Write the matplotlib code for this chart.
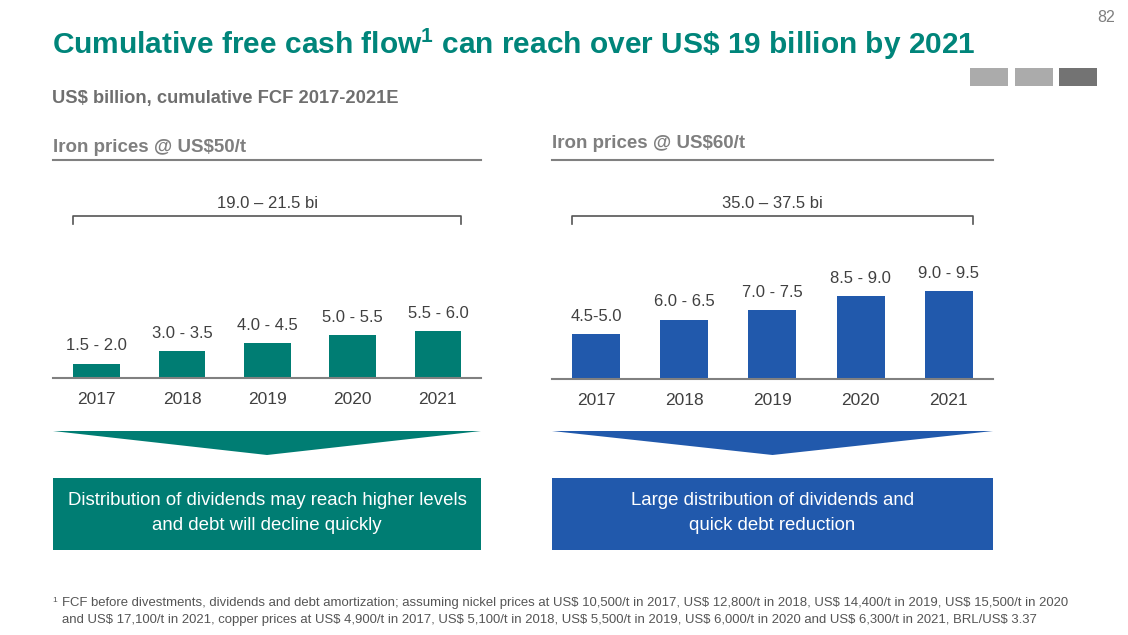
import matplotlib
matplotlib.use('Agg')
import matplotlib.pyplot as plt
import matplotlib.patches as patches

plt.rcParams['font.family'] = ['Liberation Sans', 'DejaVu Sans']
plt.rcParams['mathtext.fontset'] = 'custom'
plt.rcParams['mathtext.rm'] = 'Liberation Sans:bold'
plt.rcParams['mathtext.it'] = 'Liberation Sans:bold'
plt.rcParams['mathtext.bf'] = 'Liberation Sans:bold'

W, H = 1128, 635

# data
years = ['2017', '2018', '2019', '2020', '2021']
low_50 = [1.5, 3.0, 4.0, 5.0, 5.5]
high_50 = [2.0, 3.5, 4.5, 5.5, 6.0]
labels_50 = ['1.5 - 2.0', '3.0 - 3.5', '4.0 - 4.5', '5.0 - 5.5', '5.5 - 6.0']
low_60 = [4.5, 6.0, 7.0, 8.5, 9.0]
high_60 = [5.0, 6.5, 7.5, 9.0, 9.5]
labels_60 = ['4.5-5.0', '6.0 - 6.5', '7.0 - 7.5', '8.5 - 9.0', '9.0 - 9.5']
total_50 = '19.0 – 21.5 bi'
total_60 = '35.0 – 37.5 bi'

teal = '#007D73'
title_teal = '#00857A'
blue = '#2159AC'
gray_txt = '#7f7f7f'
dark_txt = '#404040'
line_gray = '#808080'

fig = plt.figure(figsize=(W / 100, H / 100), dpi=100)
bg = fig.add_axes([0, 0, 1, 1])
bg.set_xlim(0, W)
bg.set_ylim(H, 0)
bg.axis('off')


def px_box(x0, y0, x1, y1):
    return [x0 / W, 1 - y1 / H, (x1 - x0) / W, (y1 - y0) / H]


# header
bg.text(1106, 18, '82', ha='center', va='center', fontsize=11.5, color=gray_txt)
bg.text(52, 44, r'Cumulative free cash flow$^{1}$ can reach over US\$ 19 billion by 2021',
        ha='left', va='center', fontsize=21.5, fontweight='bold', color=title_teal)
bg.text(52, 98, 'US$ billion, cumulative FCF 2017-2021E', ha='left', va='center',
        fontsize=13.2, fontweight='bold', color='#6f6f6f', parse_math=False)
for x0, c in [(970, '#ABABAB'), (1015, '#ABABAB'), (1059, '#737373')]:
    bg.add_patch(patches.Rectangle((x0, 68), 38, 18, facecolor=c, edgecolor='none'))


def panel(x0, x1, base_y, first_c, step, bar_w, scale, lows, highs, labels, total,
          title, title_y, color, box_text):
    # section header + underline
    bg.text(x0, title_y, title, ha='left', va='center', fontsize=13.5, fontweight='bold',
            color=gray_txt, parse_math=False)
    bg.plot([x0, x1], [160, 160], color=line_gray, lw=1.5)

    top_y = 216
    ax = fig.add_axes(px_box(x0, top_y, x1, base_y))
    mids = [(lo + hi) / 2 for lo, hi in zip(lows, highs)]
    xs = list(range(len(years)))
    ax.bar(xs, mids, width=bar_w / step, color=color)
    left = -(first_c - x0) / step
    ax.set_xlim(left, left + (x1 - x0) / step)
    ax.set_ylim(0, (base_y - top_y) / scale)
    for x, m, lab in zip(xs, mids, labels):
        ax.annotate(lab, (x, m), xytext=(0, 7.5), textcoords='offset points',
                    ha='center', va='bottom', fontsize=12, color=dark_txt)
    ax.set_xticks(xs)
    ax.set_xticklabels(years, fontsize=12.5, color=dark_txt)
    ax.tick_params(axis='x', length=0, pad=10)
    ax.set_yticks([])
    for s in ['top', 'left', 'right']:
        ax.spines[s].set_visible(False)
    ax.spines['bottom'].set_color(line_gray)
    ax.spines['bottom'].set_linewidth(1.5)
    ax.patch.set_alpha(0)

    # bracket over all bars
    tr = ax.get_xaxis_transform()
    bl = xs[0] - bar_w / step / 2
    br = xs[-1] + bar_w / step / 2
    tick = 8 / (base_y - top_y)
    ax.plot([bl, bl, br, br], [1 - tick, 1, 1, 1 - tick], color='#555555', lw=1.2,
            transform=tr, clip_on=False)
    ax.annotate(total, (sum(xs) / len(xs), 1), xycoords=tr, xytext=(0, 9.3),
                textcoords='offset points', ha='center', va='center', fontsize=12,
                color=dark_txt)

    # chevron and box
    mid = (x0 + x1) / 2
    bg.add_patch(patches.Polygon([[x0, 431], [x1, 431], [mid, 455]], closed=True,
                                 facecolor=color, edgecolor='none'))
    bg.add_patch(patches.Rectangle((x0, 478), x1 - x0, 72, facecolor=color, edgecolor='none'))
    bg.text(mid, 513, box_text, ha='center', va='center', fontsize=13.4, color='white',
            linespacing=1.55)


panel(53, 481, 377.7, 96.7, 85.3, 46.7, 8.07, low_50, high_50, labels_50, total_50,
      'Iron prices @ US$50/t', 147, teal,
      'Distribution of dividends may reach higher levels\nand debt will decline quickly')
panel(552, 993, 379.3, 596, 88.2, 48, 9.51, low_60, high_60, labels_60, total_60,
      'Iron prices @ US$60/t', 144, blue,
      'Large distribution of dividends and\nquick debt reduction')

# footnote
bg.text(52, 601, '1', ha='left', va='center', fontsize=6, color='#555555')
foot1 = ('FCF before divestments, dividends and debt amortization; assuming nickel prices at '
         'US$ 10,500/t in 2017, US$ 12,800/t in 2018, US$ 14,400/t in 2019, US$ 15,500/t in 2020')
foot2 = ('and US$ 17,100/t in 2021, copper prices at US$ 4,900/t in 2017, US$ 5,100/t in 2018, '
         'US$ 5,500/t in 2019, US$ 6,000/t in 2020 and US$ 6,300/t in 2021, BRL/US$ 3.37')
bg.text(62, 603, foot1, ha='left', va='center', fontsize=9.45, color='#555555', parse_math=False)
bg.text(62, 620, foot2, ha='left', va='center', fontsize=9.45, color='#555555', parse_math=False)

fig.savefig('out.png', dpi=100, facecolor='white')
